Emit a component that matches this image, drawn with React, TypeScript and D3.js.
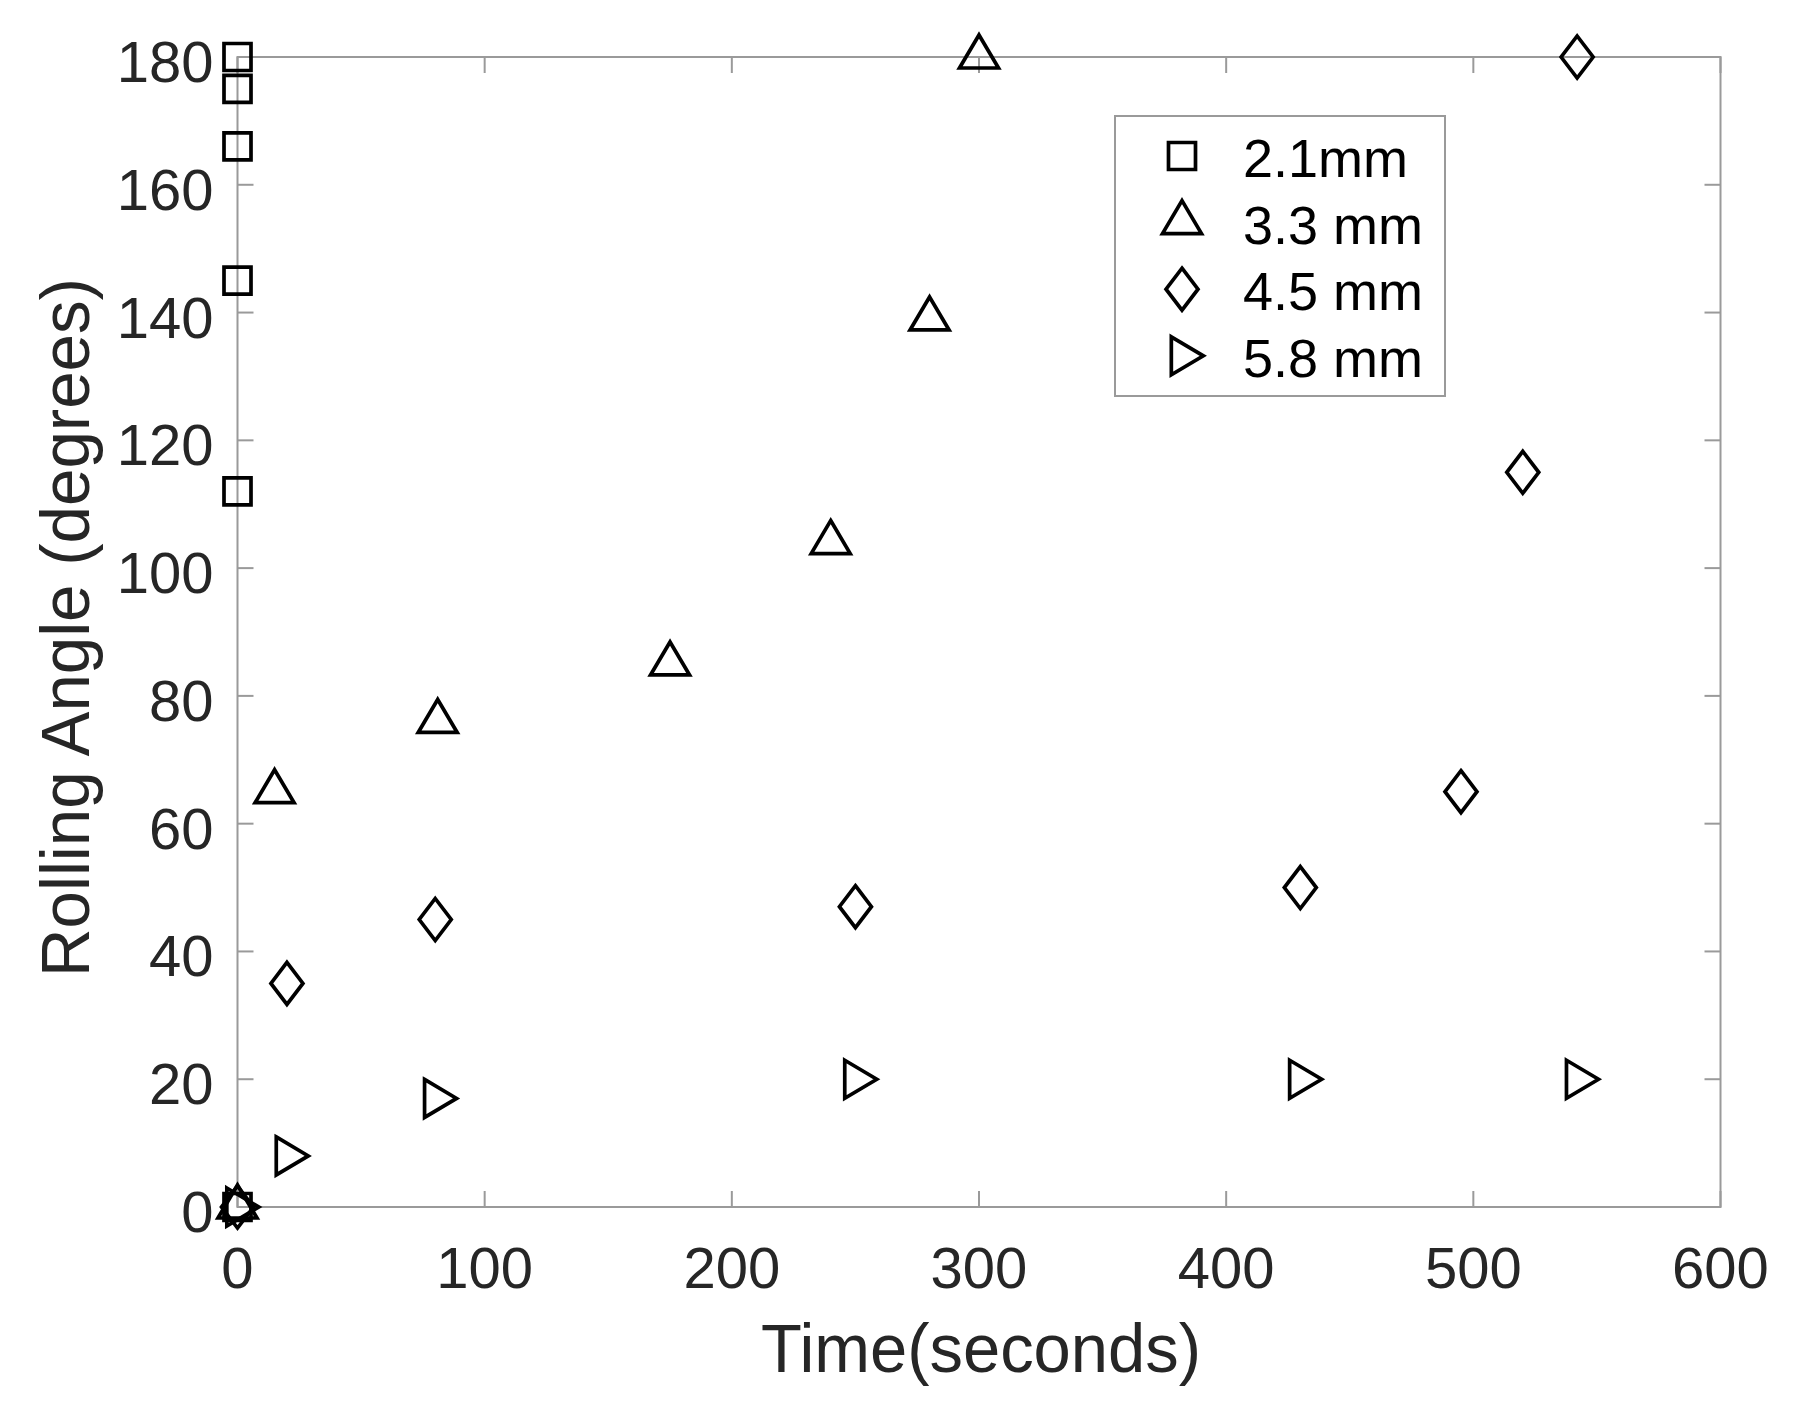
import React from "react";
import * as d3 from "d3";

const xTicks = [0, 100, 200, 300, 400, 500, 600];
const yTicks = [0, 20, 40, 60, 80, 100, 120, 140, 160, 180];

const seriesLabels = ["2.1mm", "3.3 mm", "4.5 mm", "5.8 mm"];
const seriesShapes = ["square", "triangleUp", "diamond", "triangleRight"];

const sq21X = [0, 0, 0, 0, 0, 0];
const sq21Y = [0, 112, 145, 166, 175, 180];

const tri33X = [0, 15, 81, 175, 240, 280, 300];
const tri33Y = [0, 65, 76, 85, 104, 139, 180];

const dia45X = [0, 20, 80, 250, 430, 495, 520, 542];
const dia45Y = [0, 35, 45, 47, 50, 65, 115, 180];

const rt58X = [0, 20, 80, 250, 430, 542];
const rt58Y = [0, 8, 17, 20, 20, 20];

const W = 1793;
const H = 1419;
const M = { left: 237.5, right: 1720.5, top: 57, bottom: 1207 };

const FONT = "'Liberation Sans', Arial, Helvetica, sans-serif";
const AXIS_COLOR = "#9a9a9a";
const TEXT_COLOR = "#262626";

function markerPath(shape: string, cx: number, cy: number): string {
  const p = d3.path();
  if (shape === "square") {
    const s = 27;
    p.rect(cx - s / 2, cy - s / 2, s, s);
  } else if (shape === "triangleUp") {
    const w = 39, h = 33;
    p.moveTo(cx, cy - (2 * h) / 3);
    p.lineTo(cx + w / 2, cy + h / 3);
    p.lineTo(cx - w / 2, cy + h / 3);
    p.closePath();
  } else if (shape === "diamond") {
    const w = 32, h = 42;
    p.moveTo(cx, cy - h / 2);
    p.lineTo(cx + w / 2, cy);
    p.lineTo(cx, cy + h / 2);
    p.lineTo(cx - w / 2, cy);
    p.closePath();
  } else {
    const w = 32, h = 38;
    p.moveTo(cx - w / 3, cy - h / 2);
    p.lineTo(cx + (2 * w) / 3, cy);
    p.lineTo(cx - w / 3, cy + h / 2);
    p.closePath();
  }
  return p.toString();
}

export default function App() {
  const x = d3.scaleLinear().domain([0, 600]).range([M.left, M.right]);
  const y = d3.scaleLinear().domain([0, 180]).range([M.bottom, M.top]);

  const series = [
    { xs: sq21X, ys: sq21Y },
    { xs: tri33X, ys: tri33Y },
    { xs: dia45X, ys: dia45Y },
    { xs: rt58X, ys: rt58Y },
  ];

  const tickLen = 16;
  const legend = { x0: 1115, y0: 116, x1: 1445, y1: 396, markerX: 1182, textX: 1243, rowH: 66.6, firstRow: 156 };
  const markerStroke = 3.7;

  return (
    <svg
      width={W}
      height={H}
      style={{ position: "absolute", left: 0, top: 0, background: "#fff" }}
      fontFamily={FONT}
    >
      <rect x={0} y={0} width={W} height={H} fill="#fff" />

      {/* ticks */}
      {xTicks.map((t) => (
        <g key={"xt" + t}>
          <line x1={x(t)} x2={x(t)} y1={M.bottom} y2={M.bottom - tickLen} stroke={AXIS_COLOR} strokeWidth={2} />
          <line x1={x(t)} x2={x(t)} y1={M.top} y2={M.top + tickLen} stroke={AXIS_COLOR} strokeWidth={2} />
          <text x={x(t)} y={M.bottom + 81} textAnchor="middle" fontSize={58} fill={TEXT_COLOR}>
            {t}
          </text>
        </g>
      ))}
      {yTicks.map((t) => (
        <g key={"yt" + t}>
          <line x1={M.left} x2={M.left + tickLen} y1={y(t)} y2={y(t)} stroke={AXIS_COLOR} strokeWidth={2} />
          <line x1={M.right} x2={M.right - tickLen} y1={y(t)} y2={y(t)} stroke={AXIS_COLOR} strokeWidth={2} />
          <text x={213.5} y={y(t) + 25} textAnchor="end" fontSize={58} fill={TEXT_COLOR}>
            {t}
          </text>
        </g>
      ))}

      {/* axes box */}
      <rect
        x={M.left}
        y={M.top}
        width={M.right - M.left}
        height={M.bottom - M.top}
        fill="none"
        stroke={AXIS_COLOR}
        strokeWidth={2}
      />

      {/* axis titles */}
      <text
        x={981}
        y={1372}
        textAnchor="middle"
        fontSize={69}
        fill={TEXT_COLOR}
        textLength={440}
        lengthAdjust="spacingAndGlyphs"
      >
        Time(seconds)
      </text>
      <text
        transform={`translate(88.5, 627.5) rotate(-90)`}
        x={0}
        y={0}
        textAnchor="middle"
        fontSize={68}
        fill={TEXT_COLOR}
        textLength={699}
        lengthAdjust="spacingAndGlyphs"
      >
        Rolling Angle (degrees)
      </text>

      {/* data markers */}
      {series.map((s, si) =>
        s.xs.map((xv, i) => (
          <path
            key={"m" + si + "-" + i}
            d={markerPath(seriesShapes[si], x(xv), y(s.ys[i]))}
            fill="none"
            stroke="#000"
            strokeWidth={markerStroke}
            strokeLinejoin="miter"
          />
        ))
      )}

      {/* legend */}
      <rect
        x={legend.x0}
        y={legend.y0}
        width={legend.x1 - legend.x0}
        height={legend.y1 - legend.y0}
        fill="#fff"
        stroke={AXIS_COLOR}
        strokeWidth={2}
      />
      {seriesLabels.map((lab, i) => {
        const cy = legend.firstRow + i * legend.rowH;
        return (
          <g key={"lg" + i}>
            <path
              d={markerPath(seriesShapes[i], legend.markerX, cy)}
              fill="none"
              stroke="#000"
              strokeWidth={markerStroke}
            />
            <text x={legend.textX} y={cy + 21} fontSize={54} fill="#000">
              {lab}
            </text>
          </g>
        );
      })}
    </svg>
  );
}
